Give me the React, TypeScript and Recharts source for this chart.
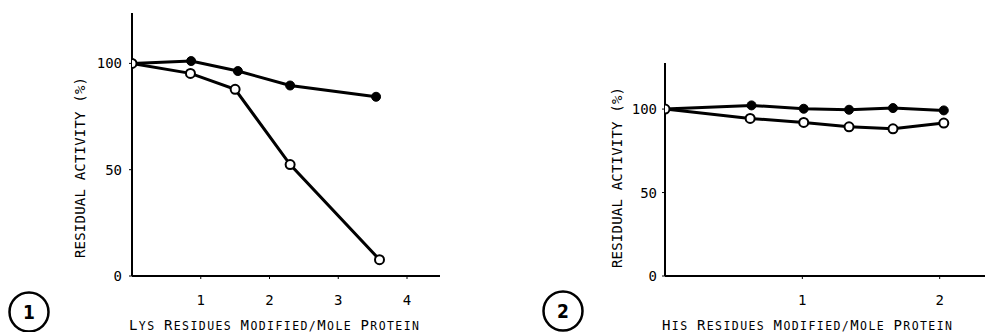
import { LineChart, Line, XAxis, YAxis } from "recharts";

// Fig. 1 - Lys modification
const lysFilled = [
  { x: 0, y: 100 },
  { x: 0.86, y: 101.1 },
  { x: 1.54, y: 96.4 },
  { x: 2.3, y: 89.6 },
  { x: 3.55, y: 84.3 },
];
const lysOpen = [
  { x: 0, y: 100 },
  { x: 0.85, y: 95.3 },
  { x: 1.5, y: 87.8 },
  { x: 2.3, y: 52.4 },
  { x: 3.6, y: 7.7 },
];
const lysTicks = [1, 2, 3, 4];

// Fig. 2 - His modification
const hisFilled = [
  { x: 0, y: 100 },
  { x: 0.63, y: 102.2 },
  { x: 1.01, y: 100.2 },
  { x: 1.34, y: 99.6 },
  { x: 1.66, y: 100.6 },
  { x: 2.03, y: 99.2 },
];
const hisOpen = [
  { x: 0, y: 100 },
  { x: 0.62, y: 94.4 },
  { x: 1.01, y: 92.0 },
  { x: 1.34, y: 89.4 },
  { x: 1.66, y: 88.2 },
  { x: 2.03, y: 91.6 },
];
const hisTicks = [1, 2];

const yTicks = [0, 50, 100];

const FONT = "'DejaVu Sans Mono', monospace";
const INK = "#000";

// uppercase letters of the source stay large, lowercase become small caps
function SmallCaps({ text, big, small }: { text: string; big: number; small: number }) {
  return (
    <>
      {text.split("").map((ch, i) => {
        const isCap = ch === ch.toUpperCase() && ch !== ch.toLowerCase();
        return (
          <tspan key={i} fontSize={isCap ? big : small}>
            {ch.toUpperCase()}
          </tspan>
        );
      })}
    </>
  );
}

const xLabel = (text: string, dx: number) => (props: any) => {
  const vb = props.viewBox;
  return (
    <text
      x={vb.x + dx}
      y={330}
      textAnchor="start"
      fill={INK}
      fontFamily={FONT}
      textLength={290}
      lengthAdjust="spacing"
    >
      <SmallCaps text={text} big={14} small={11.5} />
    </text>
  );
};

const yLabel = (text: string, dx: number, dy: number) => (props: any) => {
  const vb = props.viewBox;
  const cx = vb.x + vb.width + dx;
  const cy = vb.y + vb.height / 2 + dy;
  return (
    <text
      x={cx}
      y={cy}
      transform={`rotate(-90 ${cx} ${cy})`}
      textAnchor="middle"
      fill={INK}
      fontFamily={FONT}
      fontSize={14}
      textLength={181}
      lengthAdjust="spacing"
    >
      {text}
    </text>
  );
};

const tickStyle = { fill: INK, fontFamily: FONT, fontSize: 14 };

function Panel({
  filled,
  open,
  xMax,
  yMax,
  xTicks,
  width,
  margin,
  xText,
  yDx,
  yDy,
  yTickMargin,
}: any) {
  return (
    <LineChart width={width} height={332} margin={margin}>
      <XAxis
        type="number"
        dataKey="x"
        domain={[0, xMax]}
        ticks={xTicks}
        allowDataOverflow
        height={30}
        tickSize={3}
        tickMargin={16}
        axisLine={{ stroke: INK, strokeWidth: 2 }}
        tickLine={{ stroke: INK }}
        tick={tickStyle}
        label={{ content: xLabel(xText, -3) }}
      />
      <YAxis
        type="number"
        dataKey="y"
        domain={[0, yMax]}
        ticks={yTicks}
        allowDataOverflow
        width={50}
        tickSize={3}
        tickMargin={yTickMargin}
        axisLine={{ stroke: INK, strokeWidth: 2 }}
        tickLine={{ stroke: INK }}
        tick={tickStyle}
        label={{ content: yLabel("RESIDUAL ACTIVITY (%)", yDx, yDy) }}
      />
      <Line
        data={filled}
        dataKey="y"
        stroke={INK}
        strokeWidth={3}
        dot={{ r: 4.5, fill: INK, stroke: INK, strokeWidth: 1 }}
        isAnimationActive={false}
      />
      <Line
        data={open}
        dataKey="y"
        stroke={INK}
        strokeWidth={3}
        dot={{ r: 4.5, fill: "#fff", stroke: INK, strokeWidth: 2 }}
        isAnimationActive={false}
      />
    </LineChart>
  );
}

export default function App() {
  return (
    <div
      style={{
        position: "absolute",
        left: 0,
        top: 0,
        width: 985,
        height: 332,
        background: "#fff",
        overflow: "hidden",
      }}
    >
      <svg width={985} height={332} style={{ position: "absolute", left: 0, top: 0 }}>
        <circle cx={29} cy={312} r={19.5} fill="none" stroke={INK} strokeWidth={2.5} />
        <text x={29} y={319} textAnchor="middle" fontFamily="'DejaVu Sans Condensed', 'DejaVu Sans'" fontWeight="bold" fontSize={19} fill={INK}>
          1
        </text>
        <circle cx={563} cy={311} r={19.5} fill="none" stroke={INK} strokeWidth={2.5} />
        <text x={563} y={318} textAnchor="middle" fontFamily="'DejaVu Sans Condensed', 'DejaVu Sans'" fontWeight="bold" fontSize={19} fill={INK}>
          2
        </text>
      </svg>
      <div style={{ position: "absolute", left: 0, top: 0 }}>
        <Panel
          filled={lysFilled}
          open={lysOpen}
          xMax={4.48}
          yMax={123.7}
          xTicks={lysTicks}
          width={480}
          margin={{ top: 13, right: 40, bottom: 26, left: 82 }}
          xText="Lys Residues Modified/Mole Protein"
          yDx={-47}
          yDy={23}
          yTickMargin={7}
        />
      </div>
      <div style={{ position: "absolute", left: 500, top: 0 }}>
        <Panel
          filled={hisFilled}
          open={hisOpen}
          xMax={2.33}
          yMax={127.6}
          xTicks={hisTicks}
          width={485}
          margin={{ top: 63, right: 0, bottom: 26, left: 115 }}
          xText="His Residues Modified/Mole Protein"
          yDx={-43}
          yDy={8}
          yTickMargin={5}
        />
      </div>
    </div>
  );
}
